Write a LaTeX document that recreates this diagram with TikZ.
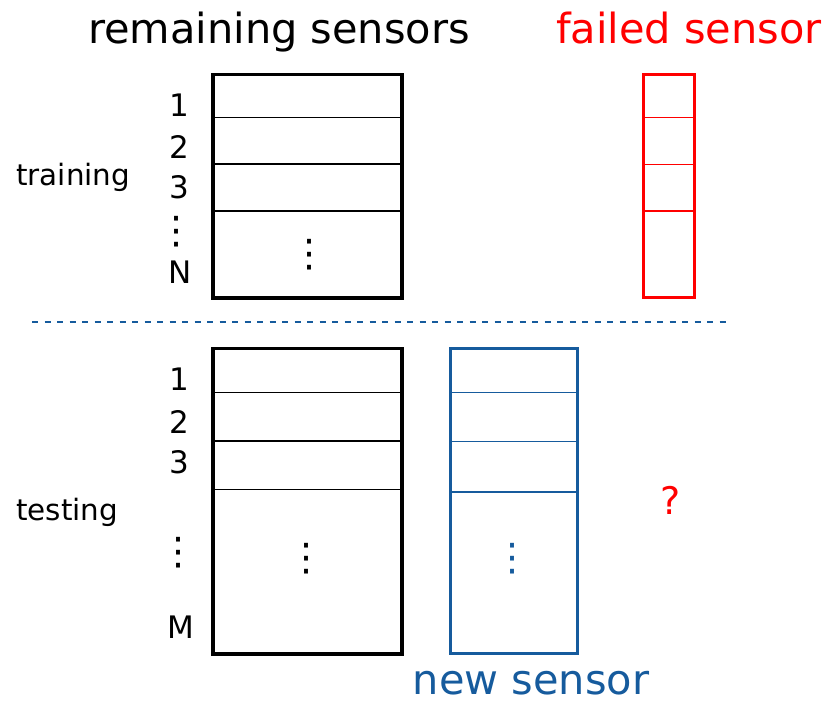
\documentclass[tikz,border=0pt]{standalone}
\usepackage{fontspec}
\setmainfont{DejaVu Sans}
\definecolor{sensorblue}{RGB}{22,91,157}
\definecolor{sensorred}{RGB}{255,0,0}
\begin{document}
\begin{tikzpicture}[x=1pt,y=-1pt,
  title/.style={anchor=base, inner sep=0, font=\fontsize{41.5}{48}\selectfont},
  phase/.style={anchor=base west, inner sep=0, font=\fontsize{29.4}{34}\selectfont},
  rowno/.style={anchor=base, inner sep=0, font=\fontsize{31}{36}\selectfont},
  dotsym/.style={anchor=center, inner sep=0, font=\fontsize{38}{42}\selectfont},
  tablebox/.style={draw, line width=3.5pt, inner sep=0, outer sep=0},
  rowline/.style={line width=1.6pt},
]
\useasboundingbox (0,0) rectangle (830,703);

% column titles
\node[title] (ttlrem) at (279,43.5) {remaining sensors};
\node[title, text=sensorred] (ttlfail) at (689,43.5) {failed sensor};
\node[title, text=sensorblue] (ttlnew) at (531,694) {new sensor};

% training block
\node[phase] (training) at (16,186) {training};
\node[tablebox, minimum width=189pt, minimum height=223.7pt] (trainbox) at (307.5,186.15) {};
\node[tablebox, draw=sensorred, line width=3pt, minimum width=50.5pt, minimum height=223.7pt] (failbox) at (668.75,186.15) {};
\foreach \yy in {117.7,164.3,211} {
  \draw[rowline] (trainbox.west |- 0,\yy) -- (trainbox.east |- 0,\yy);
  \draw[rowline, draw=sensorred, line width=1.3pt] (failbox.west |- 0,\yy) -- (failbox.east |- 0,\yy);
}
\node[rowno] (tr1) at (179,117) {1};
\node[rowno] (tr2) at (179,159) {2};
\node[rowno] (tr3) at (179,199) {3};
\node[dotsym] (trdots) at (176,232) {⋮};
\node[rowno] (trN) at (180,284) {N};
\node[dotsym] (trboxdots) at (309,254.5) {⋮};

% separator between training and testing
\coordinate (sepL) at (32,322);
\coordinate (sepR) at (726,322);
\draw[sensorblue, line width=1.5pt, dash pattern=on 6pt off 6.5pt] (sepL) -- (sepR);

% testing block
\node[phase] (testing) at (16,520) {testing};
\node[tablebox, minimum width=189pt, minimum height=305.3pt] (testbox) at (307.5,501.15) {};
\node[tablebox, draw=sensorblue, line width=3pt, minimum width=127pt, minimum height=305.3pt] (newbox) at (513.5,501.15) {};
\foreach \yy in {392.3,440.7,489.3} {
  \draw[rowline] (testbox.west |- 0,\yy) -- (testbox.east |- 0,\yy);
}
\foreach \yy in {392.3,441.3,491.7} {
  \draw[rowline, draw=sensorblue] (newbox.west |- 0,\yy) -- (newbox.east |- 0,\yy);
}
\node[rowno] (te1) at (179,390) {1};
\node[rowno] (te2) at (179,433) {2};
\node[rowno] (te3) at (179,473) {3};
\node[dotsym] (tedots) at (178,552.5) {⋮};
\node[rowno] (teM) at (181,638) {M};
\node[dotsym] (teboxdots) at (306,559) {⋮};
\node[dotsym, text=sensorblue] (newdots) at (512,559) {⋮};

\node[anchor=base, inner sep=0, text=sensorred, font=\fontsize{38}{44}\selectfont] (unknown) at (671,514) {?};
\end{tikzpicture}
\end{document}
